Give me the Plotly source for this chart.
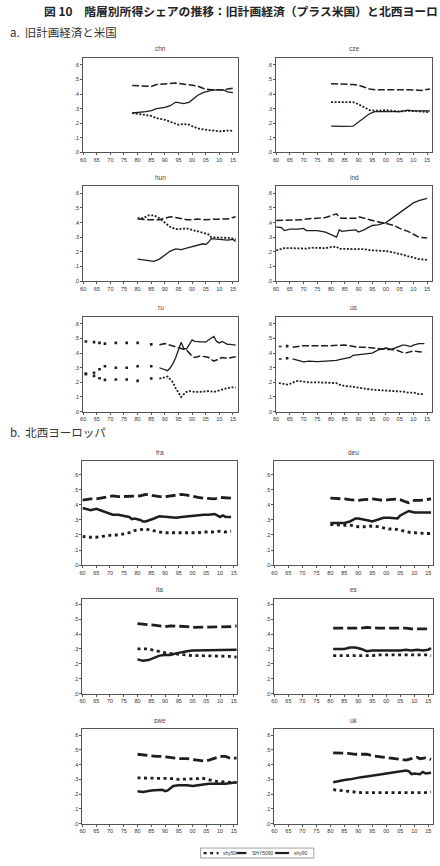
import plotly.graph_objects as go

# ---------------- DATA ----------------
tick_years = [1960, 1965, 1970, 1975, 1980, 1985, 1990, 1995, 2000, 2005, 2010, 2015]
tick_year_labels = ["60", "65", "70", "75", "80", "85", "90", "95", "00", "05", "10", "15"]
tick_shares = [0.0, 0.1, 0.2, 0.3, 0.4, 0.5, 0.6]
tick_share_labels = [".0", ".1", ".2", ".3", ".4", ".5", ".6"]
series_names = ["shy50", "SHY5090", "shy90"]

chn_years = [1978, 1980, 1983, 1985, 1987, 1990, 1992, 1994, 1995, 1997, 1999, 2000, 2002, 2004, 2005, 2007, 2010, 2012, 2013, 2015]
chn_shy50 = [0.27, 0.265, 0.258, 0.25, 0.235, 0.224, 0.21, 0.195, 0.19, 0.195, 0.19, 0.18, 0.165, 0.158, 0.155, 0.15, 0.145, 0.148, 0.15, 0.148]
chn_shy5090 = [0.459, 0.458, 0.455, 0.452, 0.465, 0.47, 0.473, 0.475, 0.472, 0.468, 0.465, 0.463, 0.455, 0.44, 0.433, 0.43, 0.43, 0.428, 0.435, 0.44]
chn_shy90 = [0.27, 0.272, 0.28, 0.287, 0.30, 0.308, 0.32, 0.345, 0.34, 0.335, 0.345, 0.36, 0.39, 0.41, 0.415, 0.425, 0.43, 0.425, 0.415, 0.41]

cze_years = [1980, 1983, 1985, 1988, 1990, 1992, 1994, 1996, 1998, 2000, 2003, 2005, 2008, 2010, 2013, 2016]
cze_shy50 = [0.345, 0.345, 0.35, 0.345, 0.33, 0.31, 0.29, 0.285, 0.288, 0.29, 0.285, 0.28, 0.285, 0.285, 0.28, 0.275]
cze_shy5090 = [0.47, 0.47, 0.468, 0.465, 0.46, 0.445, 0.435, 0.43, 0.43, 0.43, 0.435, 0.435, 0.43, 0.428, 0.425, 0.435]
cze_shy90 = [0.18, 0.178, 0.178, 0.18, 0.21, 0.24, 0.265, 0.28, 0.28, 0.275, 0.275, 0.28, 0.29, 0.285, 0.285, 0.285]

hun_years = [1980, 1982, 1984, 1986, 1988, 1990, 1992, 1994, 1996, 1998, 2000, 2002, 2004, 2005, 2006, 2007, 2009, 2011, 2013, 2015, 2016]
hun_shy50 = [0.43, 0.43, 0.45, 0.45, 0.43, 0.40, 0.37, 0.355, 0.355, 0.36, 0.35, 0.34, 0.335, 0.33, 0.32, 0.30, 0.30, 0.30, 0.295, 0.29, 0.285]
hun_shy5090 = [0.425, 0.42, 0.42, 0.42, 0.42, 0.43, 0.44, 0.435, 0.425, 0.42, 0.42, 0.425, 0.42, 0.42, 0.42, 0.42, 0.42, 0.42, 0.425, 0.435, 0.44]
hun_shy90 = [0.15, 0.145, 0.135, 0.135, 0.15, 0.18, 0.205, 0.22, 0.215, 0.225, 0.235, 0.245, 0.255, 0.25, 0.265, 0.29, 0.285, 0.28, 0.28, 0.285, 0.27]

ind_years = [1960, 1962, 1963, 1965, 1968, 1970, 1971, 1973, 1975, 1978, 1980, 1982, 1983, 1984, 1986, 1989, 1990, 1992, 1995, 1997, 2000, 2003, 2005, 2008, 2010, 2012, 2015]
ind_shy50 = [0.21, 0.22, 0.225, 0.225, 0.222, 0.22, 0.222, 0.228, 0.228, 0.225, 0.232, 0.235, 0.22, 0.22, 0.218, 0.22, 0.22, 0.218, 0.21, 0.21, 0.205, 0.195, 0.185, 0.17, 0.16, 0.15, 0.145]
ind_shy5090 = [0.415, 0.415, 0.42, 0.415, 0.42, 0.42, 0.425, 0.43, 0.43, 0.435, 0.45, 0.46, 0.435, 0.43, 0.43, 0.43, 0.44, 0.43, 0.41, 0.405, 0.395, 0.38, 0.36, 0.34, 0.32, 0.30, 0.295]
ind_shy90 = [0.37, 0.365, 0.345, 0.355, 0.355, 0.36, 0.345, 0.345, 0.345, 0.335, 0.315, 0.30, 0.35, 0.34, 0.345, 0.35, 0.335, 0.35, 0.38, 0.385, 0.40, 0.44, 0.47, 0.51, 0.535, 0.55, 0.565]

ru_years = [1961, 1962, 1964, 1965, 1966, 1967, 1968, 1969, 1972, 1973, 1976, 1977, 1980, 1981, 1985, 1986,
            1988, 1990, 1991, 1992, 1993, 1994, 1995, 1996, 1997, 1998, 1999,
            2000, 2001, 2003, 2005, 2006, 2008, 2009, 2010, 2011, 2013, 2014, 2016]
ru_shy50 = [0.255, None, 0.244, None, 0.228, None, 0.217, None, 0.22, None, 0.22, None, 0.21, None, 0.226, None,
            0.225, 0.235, 0.24, 0.22, 0.20, 0.16, 0.13, 0.10, 0.12, 0.135, 0.14,
            0.135, 0.135, 0.135, 0.14, 0.14, 0.135, 0.14, 0.15, 0.155, 0.16, 0.165, 0.165]
ru_shy5090 = [0.48, None, 0.475, None, 0.47, None, 0.465, None, 0.47, None, 0.47, None, 0.47, None, 0.46, None,
              0.458, 0.465, 0.46, 0.455, 0.45, 0.445, 0.44, 0.43, 0.43, 0.42, 0.40,
              0.38, 0.37, 0.38, 0.375, 0.37, 0.345, 0.355, 0.365, 0.37, 0.365, 0.37, 0.375]
ru_shy90 = [0.26, None, 0.266, None, 0.29, None, 0.31, None, 0.30, None, 0.30, None, 0.31, None, 0.31, None,
            0.30, 0.29, 0.28, 0.30, 0.33, 0.37, 0.42, 0.475, 0.43, 0.43, 0.46,
            0.49, 0.48, 0.48, 0.475, 0.49, 0.515, 0.48, 0.47, 0.48, 0.46, 0.46, 0.455]

us_years = [1961, 1962, 1963, 1964, 1965, 1966, 1967, 1968, 1970, 1972, 1975, 1978, 1980, 1982, 1983, 1985, 1987,
            1988, 1990, 1993, 1995, 1997, 1999, 2000, 2002, 2004, 2006, 2007, 2008, 2009, 2010, 2012, 2014]
us_shy50 = [0.195, 0.192, 0.19, 0.185, 0.19, 0.20, 0.205, 0.21, 0.205, 0.20, 0.20, 0.20, 0.20, 0.195, 0.185, 0.175, 0.172,
            0.17, 0.165, 0.155, 0.15, 0.148, 0.145, 0.145, 0.142, 0.14, 0.135, 0.135, 0.13, 0.13, 0.13, 0.12, 0.12]
us_shy5090 = [0.445, 0.445, None, 0.448, None, 0.44, 0.44, 0.445, 0.45, 0.448, 0.45, 0.45, 0.452, 0.455, 0.455, 0.455, 0.45,
              0.445, 0.44, 0.44, 0.435, 0.43, 0.425, 0.425, 0.425, 0.42, 0.405, 0.40, 0.405, 0.41, 0.415, 0.41, 0.405]
us_shy90 = [0.36, 0.36, None, 0.365, None, 0.36, 0.355, 0.345, 0.34, 0.345, 0.342, 0.345, 0.345, 0.35, 0.355, 0.365, 0.37,
            0.385, 0.39, 0.395, 0.40, 0.42, 0.43, 0.435, 0.425, 0.44, 0.455, 0.455, 0.45, 0.445, 0.455, 0.465, 0.465]

fra_years = [1960, 1962, 1963, 1965, 1967, 1969, 1971, 1973, 1975, 1977, 1978, 1979, 1981, 1982, 1983, 1984,
             1986, 1988, 1990, 1992, 1994, 1996, 1998, 2000, 2002, 2004, 2006, 2008, 2010, 2011, 2012, 2014]
fra_shy50 = [0.19, 0.185, 0.185, 0.185, 0.19, 0.20, 0.20, 0.20, 0.205, 0.215, 0.22, 0.23, 0.235, 0.238, 0.24, 0.235,
             0.225, 0.22, 0.215, 0.215, 0.212, 0.21, 0.21, 0.215, 0.215, 0.22, 0.22, 0.22, 0.225, 0.222, 0.22, 0.225]
fra_shy5090 = [0.432, 0.44, 0.44, 0.44, 0.445, 0.455, 0.46, 0.455, 0.455, 0.46, 0.46, 0.455, 0.46, 0.465, 0.47, 0.468,
               0.46, 0.455, 0.455, 0.46, 0.465, 0.47, 0.465, 0.455, 0.45, 0.445, 0.445, 0.44, 0.45, 0.45, 0.45, 0.445]
fra_shy90 = [0.38, 0.37, 0.365, 0.375, 0.36, 0.345, 0.335, 0.335, 0.325, 0.32, 0.305, 0.31, 0.30, 0.29, 0.29, 0.295,
             0.31, 0.325, 0.32, 0.315, 0.315, 0.32, 0.325, 0.33, 0.33, 0.335, 0.335, 0.34, 0.32, 0.33, 0.32, 0.32]

deu_years = [1980, 1983, 1985, 1987, 1989, 1990, 1992, 1994, 1995, 1997, 1999, 2001, 2003, 2004, 2005, 2006, 2007, 2008, 2009, 2010, 2012, 2014, 2016]
deu_shy50 = [0.27, 0.265, 0.265, 0.265, 0.255, 0.255, 0.255, 0.26, 0.26, 0.255, 0.245, 0.24, 0.24, 0.235, 0.23, 0.225, 0.22, 0.215, 0.215, 0.215, 0.21, 0.21, 0.21]
deu_shy5090 = [0.445, 0.445, 0.44, 0.435, 0.43, 0.43, 0.435, 0.44, 0.44, 0.435, 0.43, 0.435, 0.44, 0.44, 0.435, 0.425, 0.42, 0.415, 0.42, 0.43, 0.43, 0.435, 0.44]
deu_shy90 = [0.28, 0.28, 0.28, 0.29, 0.31, 0.31, 0.305, 0.295, 0.29, 0.30, 0.315, 0.315, 0.315, 0.31, 0.33, 0.34, 0.35, 0.36, 0.355, 0.35, 0.35, 0.35, 0.35]

ita_years = [1980, 1982, 1984, 1986, 1988, 1990, 1992, 1994, 1996, 1998, 2000, 2002, 2005, 2008, 2010, 2012, 2014, 2016]
ita_shy50 = [0.30, 0.30, 0.30, 0.29, 0.28, 0.275, 0.27, 0.265, 0.26, 0.255, 0.255, 0.255, 0.255, 0.255, 0.25, 0.25, 0.25, 0.245]
ita_shy5090 = [0.47, 0.468, 0.465, 0.46, 0.455, 0.45, 0.455, 0.455, 0.45, 0.45, 0.445, 0.445, 0.445, 0.445, 0.445, 0.45, 0.45, 0.455]
ita_shy90 = [0.23, 0.22, 0.225, 0.24, 0.255, 0.26, 0.26, 0.27, 0.28, 0.285, 0.29, 0.29, 0.29, 0.29, 0.29, 0.295, 0.29, 0.295]

es_years = [1981, 1983, 1985, 1987, 1989, 1991, 1993, 1995, 1997, 1999, 2001, 2003, 2005, 2007, 2009, 2011, 2013, 2015, 2016]
es_shy50 = [0.255, 0.255, 0.255, 0.25, 0.25, 0.25, 0.255, 0.255, 0.26, 0.26, 0.26, 0.26, 0.26, 0.26, 0.26, 0.265, 0.26, 0.26, 0.255]
es_shy5090 = [0.44, 0.44, 0.435, 0.435, 0.44, 0.44, 0.445, 0.44, 0.44, 0.44, 0.44, 0.445, 0.44, 0.44, 0.435, 0.435, 0.44, 0.435, 0.435]
es_shy90 = [0.30, 0.30, 0.30, 0.31, 0.31, 0.30, 0.285, 0.29, 0.29, 0.29, 0.285, 0.285, 0.29, 0.295, 0.29, 0.295, 0.29, 0.295, 0.305]

swe_years = [1980, 1982, 1985, 1987, 1989, 1990, 1991, 1993, 1995, 1998, 2000, 2002, 2003, 2004, 2006, 2007, 2008, 2009, 2010, 2012, 2014, 2016]
swe_shy50 = [0.31, 0.31, 0.31, 0.31, 0.31, 0.31, 0.305, 0.305, 0.30, 0.30, 0.30, 0.305, 0.31, 0.305, 0.30, 0.29, 0.29, 0.285, 0.285, 0.28, 0.28, 0.28]
swe_shy5090 = [0.47, 0.465, 0.455, 0.455, 0.455, 0.455, 0.45, 0.445, 0.44, 0.44, 0.435, 0.43, 0.428, 0.425, 0.43, 0.435, 0.44, 0.45, 0.455, 0.455, 0.44, 0.445]
swe_shy90 = [0.22, 0.215, 0.225, 0.23, 0.23, 0.22, 0.225, 0.255, 0.26, 0.26, 0.255, 0.26, 0.26, 0.265, 0.27, 0.27, 0.265, 0.265, 0.265, 0.27, 0.275, 0.28]

uk_years = [1981, 1983, 1985, 1987, 1989, 1991, 1993, 1995, 1997, 1999, 2001, 2003, 2005, 2007, 2008, 2009, 2010, 2011, 2012, 2013, 2014, 2016]
uk_shy50 = [0.23, 0.225, 0.22, 0.215, 0.21, 0.21, 0.21, 0.21, 0.21, 0.21, 0.21, 0.21, 0.21, 0.205, 0.205, 0.205, 0.205, 0.21, 0.21, 0.21, 0.21, 0.215]
uk_shy5090 = [0.48, 0.48, 0.48, 0.475, 0.47, 0.47, 0.47, 0.46, 0.455, 0.45, 0.45, 0.445, 0.44, 0.43, 0.435, 0.44, 0.445, 0.45, 0.44, 0.44, 0.445, 0.435]
uk_shy90 = [0.28, 0.29, 0.295, 0.30, 0.31, 0.315, 0.32, 0.325, 0.33, 0.335, 0.34, 0.345, 0.35, 0.36, 0.355, 0.335, 0.34, 0.34, 0.335, 0.35, 0.34, 0.345]

# ---------------- LAYOUT ----------------
W, H = 440, 866
def px(x): return x / W
def py(y): return 1 - y / H

panels = [
    ("chn", chn_years, chn_shy50, chn_shy5090, chn_shy90, (80.7, 237, 58, 153), (1960, 2017), 0.648, "a"),
    ("cze", cze_years, cze_shy50, cze_shy5090, cze_shy90, (275, 432, 58, 153), (1960, 2016.8), 0.648, "a"),
    ("hun", hun_years, hun_shy50, hun_shy5090, hun_shy90, (80.7, 237, 187, 282), (1960, 2017), 0.648, "a"),
    ("ind", ind_years, ind_shy50, ind_shy5090, ind_shy90, (275, 432, 187, 282), (1960, 2016.8), 0.648, "a"),
    ("ru", ru_years, ru_shy50, ru_shy5090, ru_shy90, (80.7, 237, 318, 413), (1960, 2017), 0.648, "a"),
    ("us", us_years, us_shy50, us_shy5090, us_shy90, (275, 432, 318, 413), (1960, 2016.8), 0.648, "a"),
    ("fra", fra_years, fra_shy50, fra_shy5090, fra_shy90, (80, 236, 463, 567), (1960, 2016.3), 0.69, "b"),
    ("deu", deu_years, deu_shy50, deu_shy5090, deu_shy90, (273.3, 433, 463, 567), (1960, 2016.7), 0.69, "b"),
    ("ita", ita_years, ita_shy50, ita_shy5090, ita_shy90, (80, 236, 600.7, 696), (1960, 2016.3), 0.638, "b"),
    ("es", es_years, es_shy50, es_shy5090, es_shy90, (273.3, 433, 600.7, 696), (1960, 2016.7), 0.638, "b"),
    ("swe", swe_years, swe_shy50, swe_shy5090, swe_shy90, (80, 236, 732, 826.5), (1960, 2016.3), 0.638, "b"),
    ("uk", uk_years, uk_shy50, uk_shy5090, uk_shy90, (273.3, 433, 732, 826.5), (1960, 2016.7), 0.638, "b"),
]

LINE = "#1e1e1e"
styles = {
    "a": [dict(width=1.8, dash="2px,1.6px"), dict(width=1.5, dash="7px,2.5px"), dict(width=1.3, dash="solid")],
    "b": [dict(width=2.8, dash="3px,3.5px"), dict(width=2.8, dash="10px,4px"), dict(width=2.5, dash="solid")],
}

fig = go.Figure()
annotations = []
layout_axes = {}
tickfont = dict(size=5.5, color="#333", family="Liberation Sans, Arial, sans-serif")

for i, (name, years, s50, s5090, s90, box, xr, ytop, grp) in enumerate(panels, start=1):
    sfx = "" if i == 1 else str(i)
    xa, ya = "x" + sfx, "y" + sfx
    for vals, st in zip([s50, s5090, s90], styles[grp]):
        fig.add_trace(go.Scatter(x=years, y=vals, mode="lines", xaxis=xa, yaxis=ya,
                                 line=dict(color=LINE, **st), showlegend=False,
                                 connectgaps=False, hoverinfo="skip"))
        # observations with no neighbours are drawn as single dots
        iso_x, iso_y = [], []
        for k, v in enumerate(vals):
            if v is None:
                continue
            prev_missing = k == 0 or vals[k - 1] is None
            next_missing = k == len(vals) - 1 or vals[k + 1] is None
            if prev_missing and next_missing:
                iso_x.append(years[k]); iso_y.append(v)
        if iso_x:
            fig.add_trace(go.Scatter(x=iso_x, y=iso_y, mode="markers", xaxis=xa, yaxis=ya,
                                     marker=dict(color=LINE, size=2.6, symbol="square"),
                                     showlegend=False, hoverinfo="skip"))
    x0, x1, y0, y1 = box
    layout_axes["xaxis" + sfx] = dict(
        domain=[px(x0), px(x1)], range=list(xr), anchor=ya, showline=True, mirror=True,
        linecolor="#555", linewidth=1, ticks="outside", ticklen=2, tickwidth=0.8, tickcolor="#555",
        tickvals=tick_years, ticktext=tick_year_labels, tickfont=tickfont,
        showgrid=False, zeroline=False, fixedrange=True)
    layout_axes["yaxis" + sfx] = dict(
        domain=[py(y1), py(y0)], range=[0, ytop], anchor=xa, showline=True, mirror=True,
        linecolor="#555", linewidth=1, ticks="outside", ticklen=2, tickwidth=0.8, tickcolor="#555",
        tickvals=tick_shares, ticktext=tick_share_labels, tickfont=tickfont,
        showgrid=False, zeroline=False, fixedrange=True)
    annotations.append(dict(text=name, x=px((x0 + x1) / 2), y=py(y0 - 9), xref="paper", yref="paper",
                            showarrow=False, xanchor="center", yanchor="middle",
                            font=dict(size=6.5, color="#444", family="Liberation Sans, Arial, sans-serif")))

# headings (the reference page shows the title running to "ヨーロ" at its right edge)
annotations.append(dict(text="<b>図 10</b>　<b>階層別所得シェアの推移：旧計画経済（プラス米国）と北西ヨーロ</b>",
                        x=px(39), y=py(11), xref="paper", yref="paper", showarrow=False,
                        xanchor="left", yanchor="middle",
                        font=dict(size=11.8, color="#222", family="Noto Sans CJK JP")))
annotations.append(dict(text="a.  旧計画経済と米国", x=px(5), y=py(32), xref="paper", yref="paper",
                        showarrow=False, xanchor="left", yanchor="middle",
                        font=dict(size=11.5, color="#333", family="Noto Sans CJK JP")))
annotations.append(dict(text="b.  北西ヨーロッパ", x=px(5), y=py(434), xref="paper", yref="paper",
                        showarrow=False, xanchor="left", yanchor="middle",
                        font=dict(size=11.5, color="#333", family="Noto Sans CJK JP")))

# custom legend
shapes = [dict(type="rect", xref="paper", yref="paper", x0=px(199), x1=px(313), y0=py(861), y1=py(851),
               line=dict(color="#888", width=0.8), fillcolor="white")]
leg_items = [(202, 217, 219, styles["b"][0]), (235, 246, 249, styles["b"][1]), (274, 288, 291, styles["b"][2])]
for (lx0, lx1, tx, st), nm in zip(leg_items, series_names):
    shapes.append(dict(type="line", xref="paper", yref="paper", x0=px(lx0), x1=px(lx1), y0=py(856), y1=py(856),
                       line=dict(color=LINE, width=2.2, dash=st["dash"])))
    annotations.append(dict(text=nm, x=px(tx), y=py(856), xref="paper", yref="paper", showarrow=False,
                            xanchor="left", yanchor="middle",
                            font=dict(size=5, color="#333", family="Liberation Sans, Arial, sans-serif")))

fig.update_layout(width=W, height=H, margin=dict(l=0, r=0, t=0, b=0),
                  paper_bgcolor="white", plot_bgcolor="white", showlegend=False,
                  annotations=annotations, shapes=shapes, **layout_axes)

fig.write_html("out.html")
